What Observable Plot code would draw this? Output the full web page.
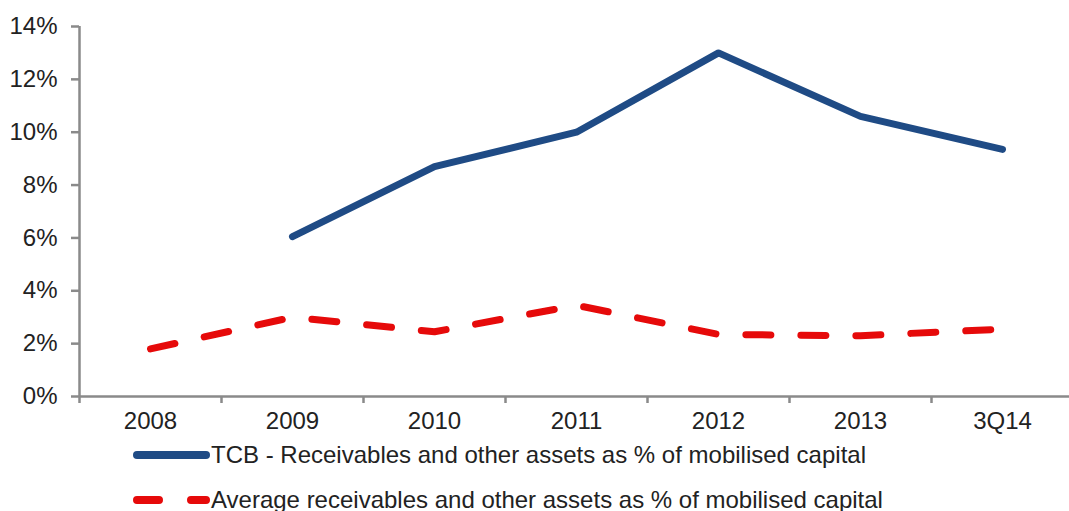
<!DOCTYPE html>
<html>
<head>
<meta charset="utf-8">
<script src="https://cdn.jsdelivr.net/npm/d3@7"></script>
<script src="https://cdn.jsdelivr.net/npm/@observablehq/plot@0.6"></script>
<style>
  html, body { margin: 0; padding: 0; background: #fff; overflow: hidden; }
  #wrap { position: relative; width: 1069px; height: 511px; font-family: "Liberation Sans", Arial, sans-serif; }
  .leg { position: absolute; left: 133px; display: flex; align-items: center; font-size: 24px; color: #222; white-space: nowrap; height: 30px; }
  .leg svg { display: block; margin-right: 1px; }
</style>
</head>
<body>
<div id="wrap">
  <div id="chart"></div>
  <div class="leg" style="top:440px">
    <svg width="77" height="14"><line x1="4" y1="7" x2="73" y2="7" stroke="#1f4b85" stroke-width="8" stroke-linecap="round"/></svg>
    <span id="l1"></span>
  </div>
  <div class="leg" style="top:485px">
    <svg width="77" height="14"><line x1="4" y1="7" x2="73" y2="7" stroke="#e60a0a" stroke-width="8" stroke-linecap="round" stroke-dasharray="22,32"/></svg>
    <span id="l2"></span>
  </div>
</div>
<script>
const categories = ["2008", "2009", "2010", "2011", "2012", "2013", "3Q14"];
const tcbValues = [null, 6.05, 8.7, 10.0, 13.0, 10.6, 9.35];
const averageValues = [1.8, 3.0, 2.45, 3.45, 2.35, 2.3, 2.55];
const yTicks = [0, 2, 4, 6, 8, 10, 12, 14];
const seriesNames = [
  "TCB - Receivables and other assets as % of mobilised capital",
  "Average receivables and other assets as % of mobilised capital"
];

document.getElementById("l1").textContent = seriesNames[0];
document.getElementById("l2").textContent = seriesNames[1];

const idx = categories.map((c, i) => i);
const bounds = categories.map((c, i) => i - 0.5).concat([categories.length - 0.5]);
const tcb = idx.filter(i => tcbValues[i] != null).map(i => ({i, v: tcbValues[i]}));
const avg = idx.map(i => ({i, v: averageValues[i]}));

const axisColor = "#8a8a8a";

const chart = Plot.plot({
  width: 1073,
  height: 435,
  marginLeft: 79,
  marginRight: 0,
  marginTop: 26,
  marginBottom: 39,
  x: {type: "linear", domain: [-0.5, categories.length - 0.5]},
  y: {domain: [0, 14]},
  style: {fontFamily: "'Liberation Sans', Arial, sans-serif", fontSize: "24px", color: "#222", background: "#fff", maxWidth: "none", overflow: "visible"},
  marks: [
    Plot.axisY({ticks: yTicks, tickSize: 8, tickPadding: 14, tickFormat: d => d + "%", stroke: axisColor, strokeWidth: 2.5, strokeOpacity: 1, label: null}),
    Plot.ruleX([-0.5], {stroke: axisColor, strokeWidth: 2.5}),
    Plot.ruleY([0], {stroke: axisColor, strokeWidth: 2.5}),
    Plot.axisX({ticks: bounds, tickSize: 7, tickFormat: () => "", stroke: axisColor, strokeWidth: 2.5, strokeOpacity: 1, label: null}),
    Plot.axisX({ticks: idx, tickSize: 0, tickPadding: 15, tickFormat: i => categories[i], label: null}),
    Plot.line(avg, {x: "i", y: "v", stroke: "#e60a0a", strokeWidth: 7, strokeLinecap: "round", strokeDasharray: "25,30"}),
    Plot.line(tcb, {x: "i", y: "v", stroke: "#1f4b85", strokeWidth: 7, strokeLinecap: "round", strokeLinejoin: "round"})
  ]
});
document.getElementById("chart").appendChild(chart);
</script>
</body>
</html>
